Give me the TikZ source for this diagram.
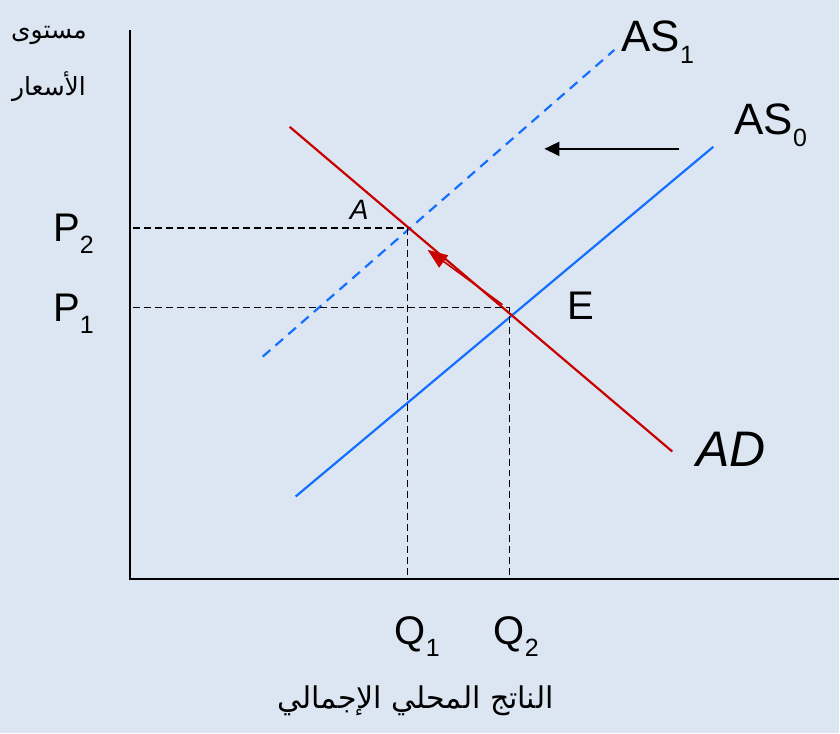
\documentclass[tikz,border=0pt]{standalone}
\usepackage{fontspec}
\setmainfont{Liberation Sans}
\newfontfamily\arabicfont[Script=Arabic]{DejaVu Sans}
\TeXXeTstate=1
\usetikzlibrary{positioning,arrows.meta}
\definecolor{bgblue}{RGB}{220,230,242}
\definecolor{asblue}{RGB}{20,110,255}
\definecolor{adred}{RGB}{200,0,0}
\newcommand{\lblsub}[3]{{\fontsize{#1}{#1}\selectfont #2}\raisebox{-12pt}{\fontsize{25}{25}\selectfont #3}}

\begin{document}
\begin{tikzpicture}[x=1pt,y=-1pt,
  axis/.style={line width=1.8pt},
  supply/.style={asblue,line width=2.2pt},
  demand/.style={adred,line width=2.2pt},
  guide/.style={dashed,dash pattern=on 7pt off 4pt,line width=1.6pt},
  lbl/.style={inner sep=0pt,anchor=base west}]
\fill[bgblue] (0,0) rectangle (840,734);
% axes
\coordinate (ytop) at (130,30);
\coordinate (O) at (130,580);
\coordinate (xend) at (840,580);
\draw[axis] (ytop) -- (O) -- (xend);
% supply and demand
\coordinate (as0a) at (296,497);
\coordinate (as0b) at (714,147);
\coordinate (as1a) at (263,357);
\coordinate (as1b) at (615,50);
\coordinate (ada) at (290,127);
\coordinate (adb) at (673,452);
\draw[supply] (as0a) -- (as0b);
\draw[supply,dash pattern=on 10pt off 7pt] (as1a) -- (as1b);
\draw[demand] (ada) -- (adb);
% price and quantity guides
\coordinate (p2) at (133,228);
\coordinate (A) at (408,228);
\coordinate (q1) at (408,580);
\coordinate (p1) at (133,308);
\coordinate (E) at (510,308);
\coordinate (q2) at (510,580);
\draw[guide] (p2) -- (A) -- (q1);
\draw[guide] (p1) -- (E) -- (q2);
% shifts
\coordinate (mvs) at (503,305);
\coordinate (mve) at (428,250);
\draw[adred,line width=1.6pt,-{Triangle[length=20pt,width=15pt]}] (mvs) -- (mve);
\coordinate (shs) at (680,149);
\coordinate (she) at (545,149);
\draw[line width=1.8pt,-{Triangle[length=15pt,width=14pt]}] (shs) -- (she);
% labels
\node[lbl] (las1) at (622,52) {\lblsub{44}{AS}{1}};
\node[lbl] (las0) at (735,135) {\lblsub{44}{AS}{0}};
\node[lbl] (lad) at (697,467) {\fontsize{50}{50}\selectfont\itshape AD};
\node[lbl] (le) at (568,320) {\fontsize{40}{40}\selectfont E};
\node[lbl] (la) at (350,220) {\fontsize{28}{28}\selectfont\itshape A};
\node[lbl] (lp2) at (53,242) {\lblsub{40}{P}{2}};
\node[lbl] (lp1) at (53,322) {\lblsub{40}{P}{1}};
\node[lbl] (lq1) at (395,645) {\lblsub{40}{Q}{1}};
\node[lbl] (lq2) at (494,645) {\lblsub{40}{Q}{2}};
\node (ly1) at (49,35) {\fontsize{25}{25}\selectfont\arabicfont\beginR مستوى\endR};
\node (ly2) at (49,87) {\fontsize{25}{25}\selectfont\arabicfont\beginR الأسعار\endR};
\node (lx) at (416,702) {\fontsize{30}{30}\selectfont\arabicfont\beginR الناتج المحلي الإجمالي\endR};
\end{tikzpicture}
\end{document}
